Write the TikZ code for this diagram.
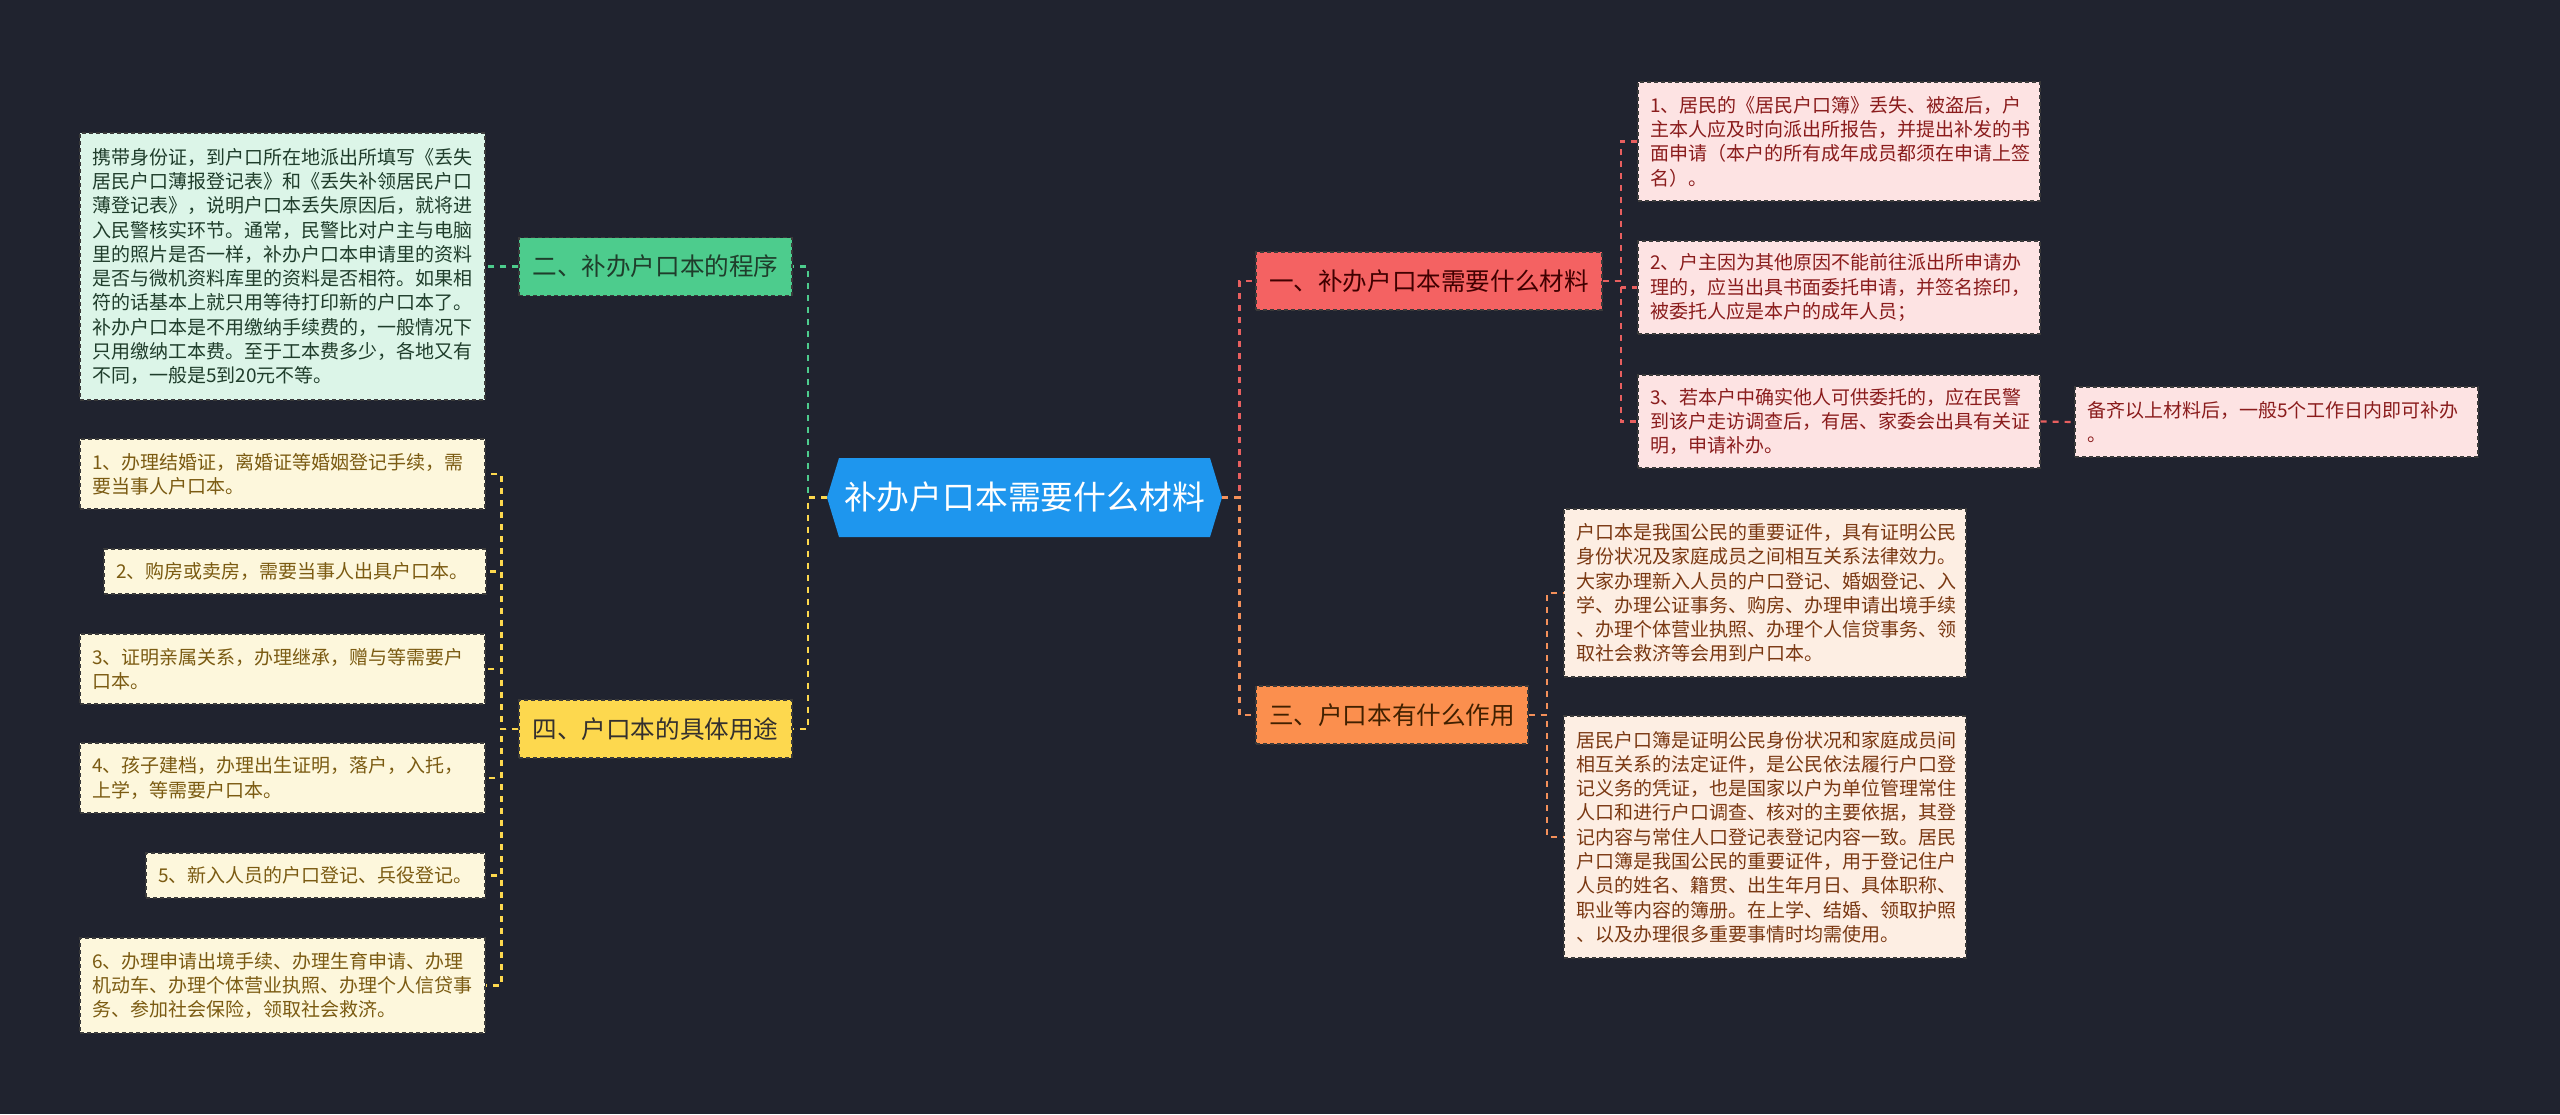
\documentclass[tikz,border=0pt]{standalone}
\usepackage{fontspec}
\setmainfont{Noto Sans CJK SC}
\definecolor{bgc}{HTML}{20232F}
\definecolor{bordc}{HTML}{3A3A3A}
\definecolor{cfill}{HTML}{1E96EE}
\definecolor{gfill}{HTML}{4DCC8D}
\definecolor{gbox}{HTML}{DCF5E8}
\definecolor{gtext}{HTML}{1F3D2B}
\definecolor{gline}{HTML}{4DCC8D}
\definecolor{yfill}{HTML}{FDD84E}
\definecolor{ybox}{HTML}{FDF7DC}
\definecolor{ytext}{HTML}{7B5B12}
\definecolor{yline}{HTML}{FDD84E}
\definecolor{rfill}{HTML}{F46262}
\definecolor{rbox}{HTML}{FDE3E3}
\definecolor{rtext}{HTML}{8A1C1C}
\definecolor{rline}{HTML}{E85F5F}
\definecolor{ofill}{HTML}{FB8F4E}
\definecolor{obox}{HTML}{FDEEE3}
\definecolor{otext}{HTML}{7A3812}
\definecolor{oline}{HTML}{F4905A}
\begin{document}
\begin{tikzpicture}[x=0.5pt,y=-0.5pt,
  leaf/.style={draw=bordc, dash pattern=on 2pt off 1.5pt, line width=0.6pt,
    inner xsep=6pt, inner ysep=0pt, align=left,
    font=\fontsize{9.5pt}{12.15pt}\selectfont},
  gleaf/.style={leaf, fill=gbox, text=gtext},
  yleaf/.style={leaf, fill=ybox, text=ytext},
  rleaf/.style={leaf, fill=rbox, text=rtext},
  oleaf/.style={leaf, fill=obox, text=otext},
  topic/.style={draw=bordc, dash pattern=on 2pt off 1.5pt, line width=0.6pt,
    inner sep=0pt, minimum height=29pt,
    font=\fontsize{12.3pt}{14pt}\selectfont},
  conn/.style={line width=1.1pt, dash pattern=on 3pt off 3pt},
  gconn/.style={conn, draw=gline},
  yconn/.style={conn, draw=yline},
  rconn/.style={conn, draw=rline},
  oconn/.style={conn, draw=oline}
]
\fill[bgc] (0,0) rectangle (2560,1114);
\useasboundingbox (0,0) rectangle (2560,1114);

% central node
\fill[cfill] (827,497.5) -- (839,458) -- (1210,458) -- (1222,497.5) -- (1210,537) -- (839,537) -- cycle;
\node[minimum width=197.5pt, minimum height=39.5pt, inner sep=0pt, text=white,
  font=\fontsize{16.4pt}{18pt}\selectfont] (c) at (1024.5,497.5) {补办户口本需要什么材料};

% topics
\node[topic, fill=gfill, text=gtext, minimum width=136.5pt] (L2) at (655.5,266.5) {二、补办户口本的程序};
\node[topic, fill=yfill, text=black!80!yellow!40!black, minimum width=136.5pt] (L4) at (655.5,729) {四、户口本的具体用途};
\node[topic, fill=rfill, text=black!75!red, minimum width=173pt] (L1) at (1429,281) {一、补办户口本需要什么材料};
\node[topic, fill=ofill, text=black!75!orange, minimum width=136pt] (L3) at (1392,715) {三、户口本有什么作用};

% green leaf
\node[gleaf, text width=190.5pt, minimum height=133.5pt] (G) at (282.5,266.5) {携带身份证，到户口所在地派出所填写《丢失\\居民户口薄报登记表》和《丢失补领居民户口\\薄登记表》，说明户口本丢失原因后，就将进\\入民警核实环节。通常，民警比对户主与电脑\\里的照片是否一样，补办户口本申请里的资料\\是否与微机资料库里的资料是否相符。如果相\\符的话基本上就只用等待打印新的户口本了。\\补办户口本是不用缴纳手续费的，一般情况下\\只用缴纳工本费。至于工本费多少，各地又有\\不同，一般是5到20元不等。};

% yellow leaves
\node[yleaf, text width=190.5pt, minimum height=35pt] (Y1) at (282.5,474) {1、办理结婚证，离婚证等婚姻登记手续，需\\要当事人户口本。};
\node[yleaf, text width=179pt, minimum height=22.5pt] (Y2) at (295,571.5) {2、购房或卖房，需要当事人出具户口本。};
\node[yleaf, text width=190.5pt, minimum height=35pt] (Y3) at (282.5,669) {3、证明亲属关系，办理继承，赠与等需要户\\口本。};
\node[yleaf, text width=190.5pt, minimum height=35pt] (Y4) at (282.5,778) {4、孩子建档，办理出生证明，落户，入托，\\上学，等需要户口本。};
\node[yleaf, text width=157.5pt, minimum height=22.5pt] (Y5) at (315.5,875.5) {5、新入人员的户口登记、兵役登记。};
\node[yleaf, text width=190.5pt, minimum height=47.5pt] (Y6) at (282.5,985.5) {6、办理申请出境手续、办理生育申请、办理\\机动车、办理个体营业执照、办理个人信贷事\\务、参加社会保险，领取社会救济。};

% red leaves
\node[rleaf, text width=189pt, minimum height=59.5pt] (R1) at (1839,141.5) {1、居民的《居民户口簿》丢失、被盗后，户\\主本人应及时向派出所报告，并提出补发的书\\面申请（本户的所有成年成员都须在申请上签\\名）。};
\node[rleaf, text width=189pt, minimum height=46.5pt] (R2) at (1839,287.5) {2、户主因为其他原因不能前往派出所申请办\\理的，应当出具书面委托申请，并签名捺印，\\被委托人应是本户的成年人员；};
\node[rleaf, text width=189pt, minimum height=46.5pt] (R3) at (1839,421.5) {3、若本户中确实他人可供委托的，应在民警\\到该户走访调查后，有居、家委会出具有关证\\明，申请补办。};
\node[rleaf, text width=189.5pt, minimum height=35pt] (R4) at (2276.5,422) {备齐以上材料后，一般5个工作日内即可补办\\。};

% orange leaves
\node[oleaf, text width=189pt, minimum height=84pt] (O1) at (1765,593) {户口本是我国公民的重要证件，具有证明公民\\身份状况及家庭成员之间相互关系法律效力。\\大家办理新入人员的户口登记、婚姻登记、入\\学、办理公证事务、购房、办理申请出境手续\\、办理个体营业执照、办理个人信贷事务、领\\取社会救济等会用到户口本。};
\node[oleaf, text width=189pt, minimum height=121pt] (O2) at (1765,837) {居民户口簿是证明公民身份状况和家庭成员间\\相互关系的法定证件，是公民依法履行户口登\\记义务的凭证，也是国家以户为单位管理常住\\人口和进行户口调查、核对的主要依据，其登\\记内容与常住人口登记表登记内容一致。居民\\户口簿是我国公民的重要证件，用于登记住户\\人员的姓名、籍贯、出生年月日、具体职称、\\职业等内容的簿册。在上学、结婚、领取护照\\、以及办理很多重要事情时均需使用。};

% connectors from center
\draw[gconn] (c.west) -- ++(-19,0) |- (L2.east);
\draw[yconn] (c.west) -- ++(-19,0) |- (L4.east);
\draw[rconn] (c.east) -- ++(17,0) |- (L1.west);
\draw[oconn] (c.east) -- ++(17,0) |- (L3.west);

% green
\draw[gconn] (L2.west) -- (G.east);
% yellow
\foreach \n in {Y1,Y2,Y3,Y4,Y5,Y6}
  \draw[yconn] (L4.west) -- ++(-17,0) |- (\n.east);
% red
\foreach \n in {R1,R2,R3}
  \draw[rconn] (L1.east) -- ++(18,0) |- (\n.west);
\draw[rconn] (R3.east) -- (R4.west);
% orange
\foreach \n in {O1,O2}
  \draw[oconn] (L3.east) -- ++(18,0) |- (\n.west);
\end{tikzpicture}
\end{document}
